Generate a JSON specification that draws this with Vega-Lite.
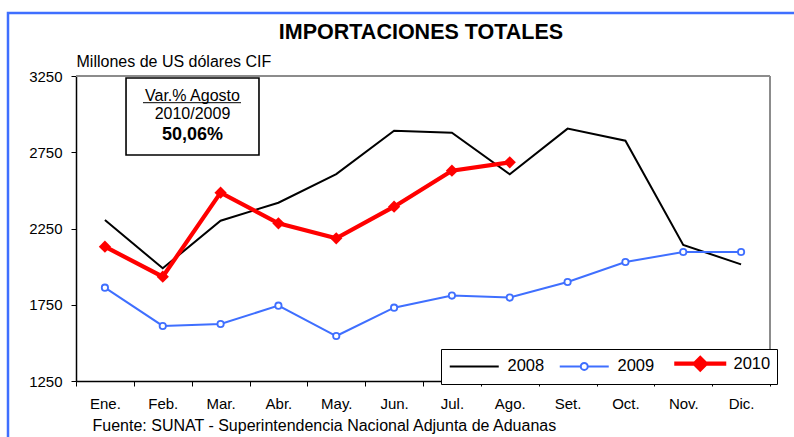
{
  "$schema": "https://vega.github.io/schema/vega-lite/v6.json",
  "width": 790,
  "height": 428,
  "autosize": {"type": "none"},
  "padding": {"left": 8, "top": 13, "right": -4, "bottom": -4},
  "background": "white",
  "config": {
    "view": {"stroke": "#3F6FFF", "strokeWidth": 2.5},
    "font": "Liberation Sans",
    "text": {"font": "Liberation Sans"}
  },
  "title": {
    "text": "IMPORTACIONES TOTALES",
    "font": "Liberation Sans",
    "fontSize": 21.5,
    "fontWeight": "bold",
    "color": "#000000",
    "anchor": "middle",
    "frame": "group",
    "dx": 18,
    "offset": -47,
    "baseline": "alphabetic"
  },
  "datasets": {
    "imports": [
      {"month": 1, "year": "2008", "value": 2306},
      {"month": 2, "year": "2008", "value": 1989},
      {"month": 3, "year": "2008", "value": 2301},
      {"month": 4, "year": "2008", "value": 2419},
      {"month": 5, "year": "2008", "value": 2607},
      {"month": 6, "year": "2008", "value": 2891},
      {"month": 7, "year": "2008", "value": 2878},
      {"month": 8, "year": "2008", "value": 2605},
      {"month": 9, "year": "2008", "value": 2905},
      {"month": 10, "year": "2008", "value": 2826},
      {"month": 11, "year": "2008", "value": 2142},
      {"month": 12, "year": "2008", "value": 2015},
      {"month": 1, "year": "2009", "value": 1862},
      {"month": 2, "year": "2009", "value": 1611},
      {"month": 3, "year": "2009", "value": 1624},
      {"month": 4, "year": "2009", "value": 1744},
      {"month": 5, "year": "2009", "value": 1545},
      {"month": 6, "year": "2009", "value": 1731},
      {"month": 7, "year": "2009", "value": 1810},
      {"month": 8, "year": "2009", "value": 1797},
      {"month": 9, "year": "2009", "value": 1899},
      {"month": 10, "year": "2009", "value": 2030},
      {"month": 11, "year": "2009", "value": 2096},
      {"month": 12, "year": "2009", "value": 2096},
      {"month": 1, "year": "2010", "value": 2131},
      {"month": 2, "year": "2010", "value": 1934},
      {"month": 3, "year": "2010", "value": 2485},
      {"month": 4, "year": "2010", "value": 2284},
      {"month": 5, "year": "2010", "value": 2186},
      {"month": 6, "year": "2010", "value": 2393},
      {"month": 7, "year": "2010", "value": 2629},
      {"month": 8, "year": "2010", "value": 2684}
    ]
  },
  "layer": [
    {
      "data": {"name": "imports"},
      "mark": {"type": "line", "strokeJoin": "miter"},
      "encoding": {
        "x": {
          "field": "month",
          "type": "quantitative",
          "scale": {"domain": [0.5, 12.5], "range": [68, 762], "nice": false, "zero": false},
          "axis": {
            "orient": "bottom",
            "offset": -60,
            "values": [0.5, 1.5, 2.5, 3.5, 4.5, 5.5, 6.5, 7.5, 8.5, 9.5, 10.5, 11.5, 12.5],
            "labelExpr": "datum.value < 12 ? ['Ene.','Feb.','Mar.','Abr.','May.','Jun.','Jul.','Ago.','Set.','Oct.','Nov.','Dic.'][floor(datum.value)] : ''",
            "labelOffset": 28.92,
            "labelFlush": false,
            "labelBound": false,
            "labelOverlap": false,
            "labelFont": "Liberation Sans",
            "labelFontSize": 15,
            "labelColor": "#000000",
            "labelPadding": 10,
            "domainColor": "#000000",
            "domainWidth": 1.5,
            "tickColor": "#000000",
            "tickWidth": 1,
            "tickSize": 5,
            "grid": false,
            "title": "Fuente: SUNAT - Superintendencia Nacional Adjunta de Aduanas",
            "titleFont": "Liberation Sans",
            "titleFontSize": 16,
            "titleFontWeight": "normal",
            "titleColor": "#000000",
            "titleX": 84,
            "titleY": 49,
            "titleAlign": "left",
            "titleAnchor": "start",
            "titleBaseline": "alphabetic"
          }
        },
        "y": {
          "field": "value",
          "type": "quantitative",
          "scale": {"domain": [1250, 3250], "range": [368, 63], "nice": false, "zero": false},
          "axis": {
            "orient": "left",
            "offset": -68,
            "values": [1250, 1750, 2250, 2750, 3250],
            "format": "d",
            "labelFont": "Liberation Sans",
            "labelFontSize": 15,
            "labelColor": "#000000",
            "labelPadding": 9,
            "domainColor": "#000000",
            "domainWidth": 1.5,
            "tickColor": "#000000",
            "tickWidth": 1,
            "tickSize": 5,
            "grid": false,
            "title": "Millones de US dólares CIF",
            "titleFont": "Liberation Sans",
            "titleFontSize": 16,
            "titleFontWeight": "normal",
            "titleColor": "#000000",
            "titleAngle": 0,
            "titleX": 0,
            "titleY": 53.5,
            "titleAlign": "left",
            "titleBaseline": "alphabetic"
          }
        },
        "color": {
          "field": "year",
          "type": "nominal",
          "scale": {"domain": ["2008", "2009", "2010"], "range": ["#000000", "#3F6FFF", "#FF0000"]},
          "legend": {
            "orient": "none",
            "legendX": 433,
            "legendY": 336,
            "direction": "horizontal",
            "title": null,
            "strokeColor": "#000000",
            "fillColor": "#ffffff",
            "padding": 6,
            "symbolSize": 400,
            "symbolOffset": 19,
            "labelOffset": 25,
            "columnPadding": 10,
            "labelFont": "Liberation Sans",
            "labelFontSize": 16.5,
            "labelColor": "#000000",
            "symbolStrokeWidth": 2,
            "encode": {
              "symbols": {
                "update": {
                  "shape": {"signal": "datum.value === '2008' ? 'M-2.45,0H2.45' : datum.value === '2009' ? 'M-2.45,0H-0.35M0.35,0H2.45M0.35,0A0.35,0.35 0 1,1 -0.35,0A0.35,0.35 0 1,1 0.35,0' : 'M-2.6,0H2.6M0,-0.55L0.55,0L0,0.55L-0.55,0Z'"},
                  "strokeWidth": {"signal": "datum.value === '2010' ? 4.2 : 2"},
                  "fill": {"signal": "datum.value === '2010' ? '#FF0000' : '#ffffff'"},
                  "opacity": {"value": 1}
                }
              }
            }
          }
        },
        "strokeWidth": {
          "condition": {"test": "datum.year === '2010'", "value": 4.2},
          "value": 2
        }
      }
    },
    {
      "data": {"values": [{"x1": 0.5, "x2": 12.5, "y": 3250}]},
      "mark": {"type": "rule", "color": "#8c8c8c", "strokeWidth": 2},
      "encoding": {
        "x": {"field": "x1", "type": "quantitative"},
        "x2": {"field": "x2"},
        "y": {"field": "y", "type": "quantitative"}
      }
    },
    {
      "data": {"values": [{"x": 12.5, "y1": 1250, "y2": 3250}]},
      "mark": {"type": "rule", "color": "#8c8c8c", "strokeWidth": 2},
      "encoding": {
        "x": {"field": "x", "type": "quantitative"},
        "y": {"field": "y1", "type": "quantitative"},
        "y2": {"field": "y2"}
      }
    },
    {
      "data": {"values": [{"x1": 1.365, "x2": 3.664, "y1": 3237, "y2": 2732}]},
      "mark": {"type": "rect", "fill": "white", "stroke": "black", "strokeWidth": 1.6},
      "encoding": {
        "x": {"field": "x1", "type": "quantitative"},
        "x2": {"field": "x2"},
        "y": {"field": "y1", "type": "quantitative"},
        "y2": {"field": "y2"}
      }
    },
    {
      "data": {"name": "imports"},
      "transform": [{"filter": "datum.year === '2009'"}],
      "mark": {"type": "point", "shape": "circle", "filled": true, "fill": "white", "stroke": "#3F6FFF", "strokeWidth": 1.8, "size": 40, "opacity": 1},
      "encoding": {
        "x": {"field": "month", "type": "quantitative"},
        "y": {"field": "value", "type": "quantitative"}
      }
    },
    {
      "data": {"name": "imports"},
      "transform": [{"filter": "datum.year === '2010'"}],
      "mark": {"type": "point", "shape": "diamond", "filled": true, "color": "#FF0000", "size": 150, "opacity": 1},
      "encoding": {
        "x": {"field": "month", "type": "quantitative"},
        "y": {"field": "value", "type": "quantitative"}
      }
    },
    {
      "data": {"values": [
        {"x": 2.514, "y": 3089, "t": "Var.% Agosto"},
        {"x": 2.514, "y": 2966, "t": "2010/2009"}
      ]},
      "mark": {"type": "text", "font": "Liberation Sans", "fontSize": 16, "align": "center", "baseline": "alphabetic", "color": "#000000"},
      "encoding": {
        "x": {"field": "x", "type": "quantitative"},
        "y": {"field": "y", "type": "quantitative"},
        "text": {"field": "t"}
      }
    },
    {
      "data": {"values": [{"x": 2.514, "y": 2830, "t": "50,06%"}]},
      "mark": {"type": "text", "font": "Liberation Sans", "fontSize": 18, "fontWeight": "bold", "align": "center", "baseline": "alphabetic", "color": "#000000"},
      "encoding": {
        "x": {"field": "x", "type": "quantitative"},
        "y": {"field": "y", "type": "quantitative"},
        "text": {"field": "t"}
      }
    },
    {
      "data": {"values": [{"x1": 1.6585, "x2": 3.353, "y": 3075}]},
      "mark": {"type": "rule", "color": "#000000", "strokeWidth": 1},
      "encoding": {
        "x": {"field": "x1", "type": "quantitative"},
        "x2": {"field": "x2"},
        "y": {"field": "y", "type": "quantitative"}
      }
    }
  ]
}
